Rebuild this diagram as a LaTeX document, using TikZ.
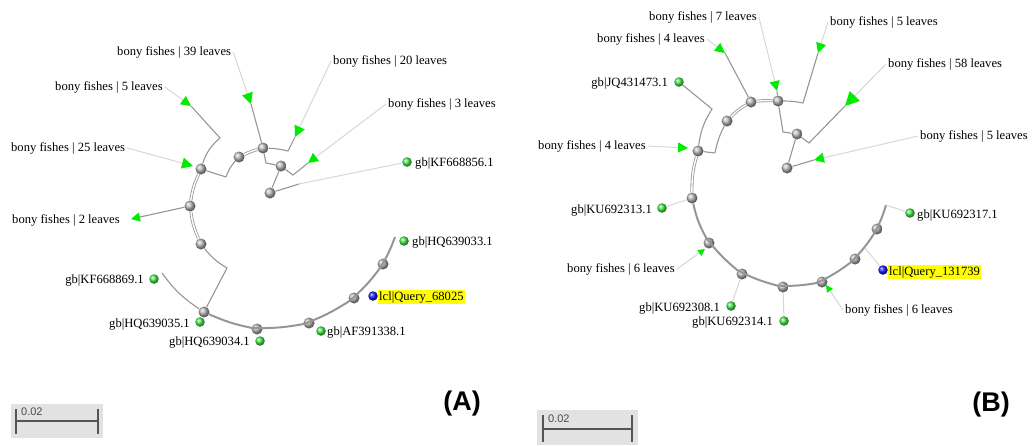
\documentclass[tikz,border=0pt]{standalone}
\usepackage{fontspec}
\setmainfont{Liberation Serif}
\newfontfamily\tagfont{Liberation Sans}
\usetikzlibrary{arrows.meta}

\definecolor{leafgreen}{RGB}{70,235,70}
\definecolor{tipgreen}{RGB}{0,235,0}
\definecolor{branchgray}{RGB}{150,150,150}
\definecolor{faintgray}{RGB}{215,215,215}
\definecolor{hiyellow}{RGB}{255,255,0}
\definecolor{bargray}{RGB}{226,226,226}
\definecolor{barline}{RGB}{85,85,85}

\begin{document}
\begin{tikzpicture}[x=1pt,y=1pt,
	knot/.style={circle, ball color=gray!55, minimum size=11pt, inner sep=0pt},
	leaf/.style={circle, ball color=leafgreen, minimum size=9.5pt, inner sep=0pt},
	qleaf/.style={circle, ball color=blue!90, minimum size=9.5pt, inner sep=0pt},
	txt/.style={font=\fontsize{12.6}{14}\selectfont, inner sep=2pt},
	branch/.style={draw=branchgray, line width=1.1pt},
	thk/.style={draw=branchgray, line width=2pt},
	dbl/.style={draw=branchgray, line width=0.8pt, double=white, double distance=1.4pt},
	faint/.style={draw=faintgray, line width=1pt},
	clade/.style={-{Triangle[length=#1, width=#1, color=tipgreen]}},
	clade/.default=10pt]

	\useasboundingbox (0,0) rectangle (1033,-445);

	% (A)
	\node[knot] (a1) at (201,-169) {};
	\node[knot] (a2) at (190,-206) {};
	\node[knot] (a3) at (201,-244) {};
	\node[knot] (a4) at (204,-312) {};
	\node[knot] (a5) at (239,-157) {};
	\node[knot] (a6) at (263,-148) {};
	\node[knot] (a7) at (281,-166) {};
	\node[knot] (a8) at (270,-193) {};
	\node[knot] (a9) at (257,-329) {};
	\node[knot] (a10) at (309,-323) {};
	\node[knot] (a11) at (354,-298) {};
	\node[knot] (a12) at (383,-264) {};

	\coordinate (c5) at (220,-138);
	\coordinate (c1) at (226,-177);
	\coordinate (c6) at (288,-151);
	\coordinate (c6b) at (266,-163);
	\coordinate (c7) at (293,-175);
	\coordinate (c8) at (299,-184);
	\coordinate (c3) at (227,-268);
	\coordinate (cK) at (162,-273);
	\coordinate (cH) at (395,-237);

	\coordinate (t39) at (251,-104);
	\coordinate (t5) at (191,-106);
	\coordinate (t25) at (193,-166);
	\coordinate (t2) at (131,-219);
	\coordinate (t20) at (295,-137);
	\coordinate (t3) at (308,-163);

	\node[txt, anchor=west] (l39) at (115,-52) {bony fishes | 39 leaves};
	\node[txt, anchor=west] (l5) at (53,-87) {bony fishes | 5 leaves};
	\node[txt, anchor=west] (l25) at (9,-148) {bony fishes | 25 leaves};
	\node[txt, anchor=west] (l2) at (10,-220) {bony fishes | 2 leaves};
	\node[txt, anchor=west] (l20) at (331,-61) {bony fishes | 20 leaves};
	\node[txt, anchor=west] (l3) at (386,-104) {bony fishes | 3 leaves};

	\node[leaf] (kf56) at (407,-162) {};
	\node[txt, anchor=west] (kf56t) at (413,-163) {gb|KF668856.1};
	\node[leaf] (hq33) at (404,-241) {};
	\node[txt, anchor=west] (hq33t) at (410,-242) {gb|HQ639033.1};
	\node[qleaf] (qa) at (373,-296) {};
	\node[txt, anchor=west, fill=hiyellow, inner sep=1pt] (qat) at (378,-297) {lcl|Query\_68025};
	\node[leaf] (af38) at (321,-331) {};
	\node[txt, anchor=west] (af38t) at (325,-332) {gb|AF391338.1};
	\node[leaf] (hq34) at (260,-341) {};
	\node[txt, anchor=east] (hq34t) at (252,-342) {gb|HQ639034.1};
	\node[leaf] (hq35) at (200,-322) {};
	\node[txt, anchor=east] (hq35t) at (192,-324) {gb|HQ639035.1};
	\node[leaf] (kf69) at (154,-279) {};
	\node[txt, anchor=east] (kf69t) at (146,-280) {gb|KF668869.1};

	\draw[dbl] (a3) to[bend left=8] (a2);
	\draw[dbl] (a2) to[bend left=8] (a1);
	\draw[branch, clade=9pt] (a2) -- (t2);
	\draw[branch] (a1) to[bend left=15] (c5) -- (t5);
	\draw[branch] (a1) -- (c1);
	\draw[branch] (c1) to[bend left=10] (a5);
	\draw[dbl] (a5) to[bend left=5] (a6);
	\draw[branch] (a6) to[bend left=5] (c6) -- (t20);
	\draw[branch] (a6) -- (t39);
	\draw[branch] (a6) -- (c6b) -- (a7);
	\draw[branch] (a7) -- (c7) -- (t3);
	\draw[branch] (a7) -- (a8);
	\draw[branch] (a8) -- (c8);
	\draw[faint] (c8) -- (kf56);
	\draw[branch] (a3) to[bend right=10] (c3) -- (a4);
	\draw[branch] (a4) to[bend left=10] (cK);
	\draw[thk] (a4) to[bend right=6] (a9) to[bend right=6] (a10) to[bend right=6] (a11) to[bend right=6] (a12) to[bend right=6] (cH);

	\draw[faint, clade=11pt] (l39.east) -- (t39);
	\draw[faint, clade] (l5.east) -- (t5);
	\draw[faint, clade=11pt] (l25.east) -- (t25);
	\draw[faint, clade=11pt] (l20.west) -- (t20);
	\draw[faint, clade] (l3.west) -- (t3);

	% (B)
	\node[knot] (b1) at (751,-102) {};
	\node[knot] (b2) at (778,-101) {};
	\node[knot] (b3) at (727,-121) {};
	\node[knot] (b4) at (698,-151) {};
	\node[knot] (b5) at (692,-198) {};
	\node[knot] (b6) at (797,-134) {};
	\node[knot] (b7) at (787,-168) {};
	\node[knot] (b8) at (709,-243) {};
	\node[knot] (b9) at (742,-274) {};
	\node[knot] (b10) at (783,-287) {};
	\node[knot] (b11) at (822,-282) {};
	\node[knot] (b12) at (855,-259) {};
	\node[knot] (b13) at (877,-229) {};

	\coordinate (cJ) at (712,-109);
	\coordinate (cb4) at (715,-153);
	\coordinate (cb2) at (803,-103);
	\coordinate (cb2d) at (783,-132);
	\coordinate (cb6) at (809,-143);
	\coordinate (cK7) at (886,-205);
	\coordinate (cq) at (865,-248);

	\coordinate (t7) at (777,-91);
	\coordinate (t4t) at (725,-53);
	\coordinate (t5t) at (818,-53);
	\coordinate (t58) at (845,-106);
	\coordinate (t5r) at (814,-160);
	\coordinate (t4l) at (688,-148);
	\coordinate (t6l) at (705,-249);
	\coordinate (t6r) at (826,-285);

	\node[txt, anchor=west] (l7) at (647,-17) {bony fishes | 7 leaves};
	\node[txt, anchor=west] (l4t) at (595,-39) {bony fishes | 4 leaves};
	\node[txt, anchor=west] (l5t) at (828,-22) {bony fishes | 5 leaves};
	\node[txt, anchor=west] (l58) at (886,-64) {bony fishes | 58 leaves};
	\node[txt, anchor=west] (l5r) at (918,-136) {bony fishes | 5 leaves};
	\node[txt, anchor=west] (l4l) at (536,-146) {bony fishes | 4 leaves};
	\node[txt, anchor=west] (l6l) at (565,-269) {bony fishes | 6 leaves};
	\node[txt, anchor=west] (l6r) at (843,-310) {bony fishes | 6 leaves};

	\node[leaf] (jq) at (679,-82) {};
	\node[txt, anchor=east] (jqt) at (670,-83) {gb|JQ431473.1};
	\node[leaf] (ku13) at (662,-208) {};
	\node[txt, anchor=east] (ku13t) at (654,-210) {gb|KU692313.1};
	\node[leaf] (ku17) at (910,-213) {};
	\node[txt, anchor=west] (ku17t) at (915,-215) {gb|KU692317.1};
	\node[qleaf] (qb) at (883,-270) {};
	\node[txt, anchor=west, fill=hiyellow, inner sep=1pt] (qbt) at (888,-272) {lcl|Query\_131739};
	\node[leaf] (ku08) at (731,-306) {};
	\node[txt, anchor=east] (ku08t) at (722,-308) {gb|KU692308.1};
	\node[leaf] (ku14) at (784,-321) {};
	\node[txt, anchor=east] (ku14t) at (775,-322) {gb|KU692314.1};

	\draw[dbl] (b5) to[bend left=8] (b4);
	\draw[branch] (b4) to[bend left=12] (cJ) -- (jq);
	\draw[branch] (b4) -- (cb4);
	\draw[branch] (cb4) to[bend left=8] (b3);
	\draw[dbl] (b3) to[bend left=8] (b1);
	\draw[dbl] (b1) to[bend left=5] (b2);
	\draw[branch] (b2) to[bend left=5] (cb2) -- (t5t);
	\draw[branch] (b1) -- (t4t);
	\draw[branch] (b2) -- (t7);
	\draw[branch] (b2) -- (cb2d) -- (b6);
	\draw[branch] (b6) -- (cb6) -- (t58);
	\draw[branch] (b6) -- (b7);
	\draw[branch] (b7) -- (t5r);
	\draw[faint] (b5) -- (ku13);
	\draw[thk] (b5) to[bend right=8] (b8) to[bend right=6] (b9) to[bend right=6] (b10) to[bend right=6] (b11) to[bend right=6] (b12) to[bend right=6] (b13) to[bend right=6] (cK7);
	\draw[faint] (cK7) -- (ku17);
	\draw[faint] (cq) -- (qb);
	\draw[faint] (b9) -- (ku08);
	\draw[faint] (b10) -- (ku14);

	\draw[faint, clade] (l7.east) -- (t7);
	\draw[faint, clade] (l4t.east) -- (t4t);
	\draw[faint, clade] (l5t.west) -- (t5t);
	\draw[faint, clade=14pt] (l58.west) -- (t58);
	\draw[faint, clade] (l5r.west) -- (t5r);
	\draw[faint, clade] (l4l.east) -- (t4l);
	\draw[faint, clade=7pt] (l6l.east) -- (t6l);
	\draw[faint, clade=7pt] (l6r.west) -- (t6r);

	% scale bars and panel tags
	\fill[bargray] (11,-404) rectangle (103,-438);
	\draw[barline, line width=2pt] (16,-409) -- (16,-434) (98,-409) -- (98,-434);
	\draw[barline, line width=1.8pt] (16,-421) -- (98,-421);
	\node[font=\tagfont\fontsize{11}{12}\selectfont, text=gray!60!black, anchor=west, inner sep=0pt] (sa) at (21,-412) {0.02};

	\fill[bargray] (537,-410) rectangle (638,-445);
	\draw[barline, line width=2pt] (543,-415) -- (543,-442) (632,-415) -- (632,-442);
	\draw[barline, line width=1.8pt] (543,-429) -- (632,-429);
	\node[font=\tagfont\fontsize{11}{12}\selectfont, text=gray!60!black, anchor=west, inner sep=0pt] (sb) at (548,-419) {0.02};

	\node[font=\tagfont\bfseries\fontsize{27}{30}\selectfont] (tagA) at (462,-404) {(A)};
	\node[font=\tagfont\bfseries\fontsize{27}{30}\selectfont] (tagB) at (991,-405) {(B)};
\end{tikzpicture}
\end{document}
